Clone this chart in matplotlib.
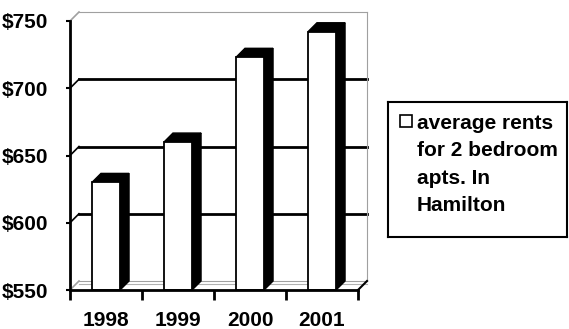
import matplotlib
matplotlib.use("Agg")
import matplotlib.pyplot as plt
from matplotlib.patches import Polygon, Rectangle

plt.rcParams['font.family'] = ['Liberation Sans', 'DejaVu Sans']
plt.rcParams['font.weight'] = 'bold'

years = ["1998", "1999", "2000", "2001"]
rents = [630, 660, 723, 742]
yticks = [550, 600, 650, 700, 750]
ytick_labels = ["$550", "$600", "$650", "$700", "$750"]
legend_label = "average rents\nfor 2 bedroom\napts. In\nHamilton"

W, H = 569, 329
fig = plt.figure(figsize=(W / 100, H / 100), dpi=100)
ax = fig.add_axes([70 / W, 39 / H, 288 / W, 269 / H])

ymin, ymax = 550, 750
ax.set_xlim(-0.5, len(years) - 0.5)
ax.set_ylim(ymin, ymax)

# depth offset of the fake 3d box, in data units
dx = 9 / 72
dy = 9 / (269 / 200)
x_lo, x_hi = -0.5, len(years) - 0.5

# back wall grid + side wall slashes
for v in yticks:
    if v in (ymin, ymax):
        c, lw = '#a0a0a0', 0.8
    else:
        c, lw = 'black', 2
    ax.plot([x_lo + dx, x_hi + dx], [v + dy, v + dy], color=c, lw=lw, clip_on=False, zorder=1)
    ax.plot([x_lo, x_lo + dx], [v, v + dy], color=c, lw=1.2, clip_on=False, zorder=1)
ax.plot([x_lo + dx, x_hi + dx], [ymin + dy * 0.7] * 2, color='#b0b0b0', lw=0.8, clip_on=False, zorder=1)
ax.plot([x_hi + dx, x_hi + dx], [ymin + dy, ymax + dy], color='#a0a0a0', lw=0.8, clip_on=False, zorder=1)
ax.plot([x_hi, x_hi + dx], [ymin, ymin + dy], color='black', lw=1.5, clip_on=False, zorder=1)

# bars
w = 0.39
for i, v in enumerate(rents):
    x0, x1 = i - w / 2, i + w / 2
    ax.bar(i, v - ymin, bottom=ymin, width=w, color='white', edgecolor='black', lw=1.3, zorder=4)
    top = Polygon([(x0, v), (x0 + dx, v + dy), (x1 + dx, v + dy), (x1, v)],
                  closed=True, facecolor='black', edgecolor='black', lw=1, clip_on=False, zorder=3)
    side = Polygon([(x1, ymin), (x1 + dx, ymin + dy), (x1 + dx, v + dy), (x1, v)],
                   closed=True, facecolor='black', edgecolor='black', lw=1, clip_on=False, zorder=3)
    ax.add_patch(top)
    ax.add_patch(side)

for s in ['top', 'right']:
    ax.spines[s].set_visible(False)
for s in ['left', 'bottom']:
    ax.spines[s].set_linewidth(2)
    ax.spines[s].set_zorder(5)

ax.set_yticks(yticks)
ax.set_yticklabels(ytick_labels, fontsize=15, fontweight='bold')
ax.tick_params(axis='y', length=3, width=1.5, pad=13)

ax.set_xticks([i - 0.5 for i in range(len(years) + 1)])
ax.set_xticklabels([])
ax.set_xticks(range(len(years)), minor=True)
ax.set_xticklabels(years, minor=True, fontsize=15, fontweight='bold')
ax.tick_params(axis='x', which='major', length=7, width=2, direction='out')
ax.tick_params(axis='x', which='minor', length=0, pad=15)

# legend box
lax = fig.add_axes([388 / W, 92 / H, 179 / W, 135 / H])
lax.set_xticks([])
lax.set_yticks([])
for s in lax.spines.values():
    s.set_linewidth(1.5)
lax.add_patch(Rectangle((12 / 179, 110 / 135), 12 / 179, 12 / 135,
                        facecolor='white', edgecolor='black', lw=1.2, transform=lax.transAxes))
lax.text(29 / 179, 123 / 135, legend_label, transform=lax.transAxes, ha='left', va='top',
         fontsize=15, fontweight='bold', linespacing=1.55)

fig.savefig("out.png", dpi=100)
